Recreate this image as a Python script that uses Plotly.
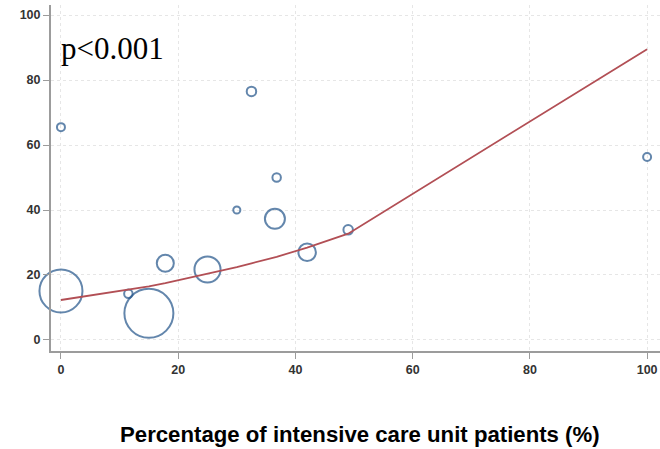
import plotly.graph_objects as go

# Study-level data
icu_pct = [0, 32.5, 36.8, 100, 30, 36.5, 42, 49, 0, 11.5, 15, 17.8, 25]
outcome = [65.5, 76.5, 50, 56.3, 40, 37.3, 27, 33.9, 15.1, 14.2, 8.2, 23.6, 21.7]
weights = [64, 90, 72, 64, 50, 400, 306, 90, 1850, 72, 2400, 290, 680]

# Fitted meta-regression values
fit_x = [0, 11.5, 15, 17.8, 25, 30, 32.5, 36.5, 36.8, 42, 49, 100]
fit_y = [12.3, 15.4, 16.5, 17.5, 20.3, 22.4, 23.6, 25.4, 25.6, 28.4, 32.7, 89.5]

x_ticks = [0, 20, 40, 60, 80, 100]
y_ticks = [0, 20, 40, 60, 80, 100]

max_d = 49
sizeref = 2.0 * max(weights) / (max_d ** 2)

fig = go.Figure()
fig.add_trace(go.Scatter(
    x=icu_pct, y=outcome, mode="markers", cliponaxis=False,
    marker=dict(size=weights, sizemode="area", sizeref=sizeref,
                color="rgba(0,0,0,0)",
                line=dict(color="#22548a", width=2)),
    showlegend=False, hoverinfo="skip"))
fig.add_trace(go.Scatter(
    x=fit_x, y=fit_y, mode="lines",
    line=dict(color="#b24f55", width=1.8),
    showlegend=False, hoverinfo="skip"))

axis_common = dict(
    showgrid=True, gridcolor="#e6e6e6", griddash="dot", gridwidth=1.2,
    showline=True, linecolor="#9c9c9c", linewidth=2,
    ticks="outside", ticklen=6, tickcolor="#9c9c9c", tickwidth=1,
    zeroline=False,
    tickfont=dict(family="Liberation Sans", size=12.5, color="#333333", weight="bold"),
)

fig.update_xaxes(range=[-1.7, 102.2], tickvals=x_ticks, **axis_common)
fig.update_yaxes(range=[-3.4, 103.1], tickvals=y_ticks, **axis_common)

fig.add_annotation(
    x=(59 - 51) / 609, y=(351 - 48) / 346, xref="paper", yref="paper",
    text="p<0.001", showarrow=False, xanchor="left", yanchor="middle",
    font=dict(family="Liberation Serif", size=31, color="#000000"))

fig.add_annotation(
    x=(360 - 51) / 609, y=-(434 - 351) / 346, xref="paper", yref="paper",
    text="Percentage of intensive care unit patients (%)", showarrow=False,
    xanchor="center", yanchor="middle",
    font=dict(family="Liberation Sans", size=22.2, color="#000000", weight="bold"))

fig.update_layout(
    width=660, height=449,
    margin=dict(l=51, r=0, t=5, b=98),
    paper_bgcolor="white", plot_bgcolor="white",
)

fig.write_html("out.html", config={"displayModeBar": False},
               post_script="document.body.style.margin='0';document.body.style.overflow='hidden';")
